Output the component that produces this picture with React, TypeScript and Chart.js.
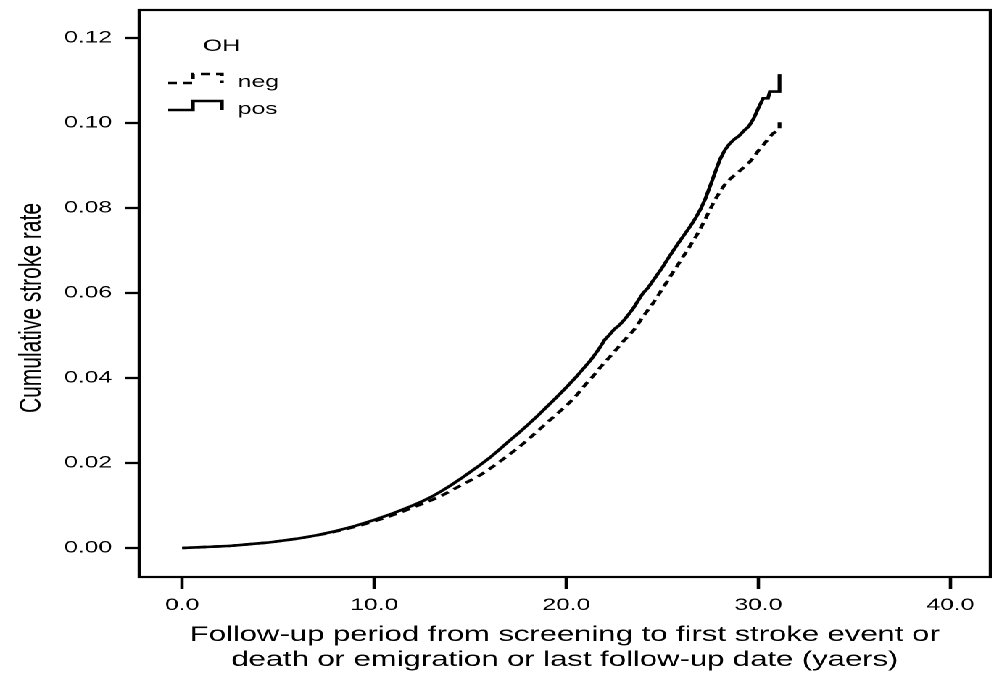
import React, { useEffect, useRef } from 'react';
import { Chart, registerables } from 'chart.js';

Chart.register(...registerables);

// ---- data ----
const legendTitle = 'OH';
const seriesNames = ['neg', 'pos'];
const xTickValues = [0, 10, 20, 30, 40];
const yTickValues = [0, 0.02, 0.04, 0.06, 0.08, 0.1, 0.12];
const xTitleLines = [
  'Follow-up period from screening to first stroke event or',
  'death or emigration or last follow-up date (yaers)',
];
const yTitle = 'Cumulative stroke rate';

const posTimes = [
  0, 0.5, 1, 1.5, 2, 2.5, 3, 3.5, 4, 4.5, 5, 5.5, 6, 6.5, 7, 7.5, 8, 8.5, 9, 9.5,
  10, 10.5, 11, 11.5, 12, 12.5, 13, 13.5, 14, 14.5, 15, 15.5, 16, 16.5, 17, 17.5, 18, 18.5, 19, 19.5,
  20, 20.25, 20.5, 20.75, 21, 21.25, 21.5, 21.75, 22, 22.25, 22.5, 22.75, 23, 23.25, 23.5, 23.75,
  24, 24.25, 24.5, 24.75, 25, 25.25, 25.5, 25.75, 26, 26.25, 26.5, 26.75, 27, 27.25, 27.5, 27.75,
  28, 28.25, 28.5, 28.75, 29, 29.25, 29.5, 29.75, 30, 30.25, 30.5, 30.6, 31.1, 31.1,
];
const posRates = [
  0, 0.0001, 0.0002, 0.0003, 0.0004, 0.0005, 0.0007, 0.0009, 0.0011, 0.0013, 0.0016, 0.0019, 0.0022, 0.0026, 0.003, 0.0035, 0.004, 0.0046, 0.0052, 0.0059,
  0.0066, 0.0074, 0.0082, 0.0091, 0.01, 0.011, 0.0121, 0.0134, 0.0148, 0.0163, 0.0179, 0.0195, 0.0212, 0.0231, 0.0251, 0.027, 0.029, 0.0311, 0.0333, 0.0355,
  0.0378, 0.039, 0.0402, 0.0415, 0.0428, 0.0441, 0.0456, 0.0472, 0.049, 0.0502, 0.0515, 0.0524, 0.0536, 0.055, 0.0565, 0.0583,
  0.06, 0.0612, 0.0628, 0.0644, 0.066, 0.0678, 0.0695, 0.0712, 0.0728, 0.0744, 0.076, 0.0778, 0.0798, 0.0823, 0.0853, 0.0884,
  0.0914, 0.0936, 0.0951, 0.0962, 0.097, 0.0982, 0.0992, 0.101, 0.1035, 0.1058, 0.1058, 0.1074, 0.1074, 0.1115,
];

const negTimes = [
  0, 0.5, 1, 1.5, 2, 2.5, 3, 3.5, 4, 4.5, 5, 5.5, 6, 6.5, 7, 7.5, 8, 8.5, 9, 9.5,
  10, 10.5, 11, 11.5, 12, 12.5, 13, 13.5, 14, 14.5, 15, 15.5, 16, 16.5, 17, 17.5, 18, 18.5, 19, 19.5,
  20, 20.25, 20.5, 20.75, 21, 21.25, 21.5, 21.75, 22, 22.25, 22.5, 22.75, 23, 23.25, 23.5, 23.75,
  24, 24.25, 24.5, 24.75, 25, 25.25, 25.5, 25.75, 26, 26.25, 26.5, 26.75, 27, 27.25, 27.5, 27.75,
  28, 28.25, 28.5, 28.75, 29, 29.25, 29.5, 29.75, 30, 30.25, 30.5, 30.75, 31.1, 31.1,
];
const negRates = [
  0, 0.0001, 0.0002, 0.0003, 0.0004, 0.0005, 0.0007, 0.0009, 0.0011, 0.0013, 0.0016, 0.0019, 0.0022, 0.0026, 0.003, 0.0034, 0.0039, 0.0044, 0.005, 0.0056,
  0.0063, 0.007, 0.0078, 0.0086, 0.0095, 0.0104, 0.0113, 0.0123, 0.0135, 0.0147, 0.0159, 0.0171, 0.0186, 0.0202, 0.0219, 0.0236, 0.0255, 0.0275, 0.0295, 0.0315,
  0.0335, 0.0346, 0.0358, 0.0371, 0.0385, 0.0397, 0.041, 0.0424, 0.0437, 0.0449, 0.0462, 0.0475, 0.0488, 0.05, 0.0512, 0.0528,
  0.0545, 0.056, 0.0575, 0.0592, 0.061, 0.0627, 0.0645, 0.0662, 0.068, 0.0697, 0.0715, 0.0733, 0.0753, 0.0775, 0.0798, 0.082,
  0.0838, 0.0855, 0.0867, 0.0877, 0.0886, 0.0896, 0.0906, 0.0919, 0.0935, 0.0948, 0.0962, 0.0975, 0.0985, 0.1005,
];

// ---- layout / style ----
const STRETCH = 1.45;
const CANVAS_W = 684;
const CANVAS_H = 681;
const FONT = '"Liberation Sans", Arial, Helvetica, sans-serif';
const LINE_W = 2.6;
const DASH = [6, 4.5];

const decorPlugin = {
  id: 'decor',
  afterDraw(chart: any) {
    const { ctx, chartArea: a } = chart;
    ctx.save();
    // frame
    ctx.strokeStyle = '#000';
    ctx.lineWidth = 2.2;
    ctx.setLineDash([]);
    ctx.strokeRect(a.left, a.top, a.right - a.left, a.bottom - a.top);

    ctx.fillStyle = '#000';
    // x title
    ctx.font = `21.4px ${FONT}`;
    ctx.textAlign = 'center';
    ctx.textBaseline = 'middle';
    const cx = (a.left + a.right) / 2;
    xTitleLines.forEach((t, i) => ctx.fillText(t, cx, a.bottom + 58 + i * 25));

    // y title
    ctx.save();
    ctx.translate(22, 308);
    ctx.rotate(-Math.PI / 2);
    ctx.font = `21px ${FONT}`;
    ctx.fillText(yTitle, 0, 0);
    ctx.restore();

    // legend
    ctx.textAlign = 'left';
    ctx.textBaseline = 'alphabetic';
    ctx.font = `17px ${FONT}`;
    ctx.fillText(legendTitle, a.left + 44, a.top + 41);
    const x0 = a.left + 20, xs = a.left + 37, x1 = a.left + 57;
    const rows = [
      { low: a.top + 73, high: a.top + 64, base: a.top + 77, dash: DASH },
      { low: a.top + 100, high: a.top + 91, base: a.top + 104, dash: [] as number[] },
    ];
    rows.forEach((r, i) => {
      ctx.save();
      ctx.lineWidth = LINE_W;
      ctx.setLineDash(r.dash);
      ctx.beginPath();
      ctx.moveTo(x0, r.low);
      ctx.lineTo(xs, r.low);
      ctx.lineTo(xs, r.high);
      ctx.lineTo(x1, r.high);
      ctx.lineTo(x1, r.low);
      ctx.stroke();
      ctx.restore();
      ctx.fillText(seriesNames[i], a.left + 68, r.base);
    });
    ctx.restore();
  },
};

export default function App() {
  const ref = useRef<HTMLCanvasElement | null>(null);
  useEffect(() => {
    document.body.style.margin = '0';
    const canvas = ref.current;
    if (!canvas) return;
    const mk = (times: number[], rates: number[]) => times.map((t, i) => ({ x: t, y: rates[i] }));
    const chart = new Chart(canvas, {
      type: 'line',
      data: {
        datasets: [
          {
            label: seriesNames[0],
            data: mk(negTimes, negRates),
            borderColor: '#000',
            borderWidth: LINE_W,
            borderDash: DASH,
            pointRadius: 0,
            tension: 0,
            fill: false,
          },
          {
            label: seriesNames[1],
            data: mk(posTimes, posRates),
            borderColor: '#000',
            borderWidth: LINE_W,
            pointRadius: 0,
            tension: 0,
            fill: false,
          },
        ],
      },
      options: {
        animation: false,
        responsive: false,
        devicePixelRatio: 2,
        events: [],
        layout: { padding: { top: 10, right: 1, left: 0, bottom: 0 } },
        plugins: { legend: { display: false }, tooltip: { enabled: false } },
        scales: {
          x: {
            type: 'linear',
            min: -2.24,
            max: 42.08,
            afterBuildTicks: (s: any) => {
              s.ticks = xTickValues.map((v) => ({ value: v }));
            },
            afterFit: (s: any) => {
              s.height = 104;
              s.paddingLeft = 0;
              s.paddingRight = 0;
            },
            grid: { drawOnChartArea: false, drawTicks: true, tickLength: 12, tickWidth: 2.3, tickColor: '#000' },
            border: { display: false },
            ticks: {
              color: '#000',
              font: { family: FONT, size: 17 },
              padding: 6,
              maxRotation: 0,
              autoSkip: false,
              callback: (v: any) => Number(v).toFixed(1),
            },
          },
          y: {
            type: 'linear',
            min: -0.00682,
            max: 0.12659,
            afterBuildTicks: (s: any) => {
              s.ticks = yTickValues.map((v) => ({ value: v }));
            },
            afterFit: (s: any) => {
              s.width = 96;
              s.paddingTop = 0;
              s.paddingBottom = 0;
            },
            grid: { drawOnChartArea: false, drawTicks: true, tickLength: 9.7, tickWidth: 2.3, tickColor: '#000' },
            border: { display: false },
            ticks: {
              color: '#000',
              font: { family: FONT, size: 17 },
              padding: 9,
              autoSkip: false,
              callback: (v: any) => Number(v).toFixed(2),
            },
          },
        },
      },
      plugins: [decorPlugin],
    });
    return () => chart.destroy();
  }, []);

  return (
    <div
      style={{
        width: CANVAS_W,
        height: CANVAS_H,
        transform: `scaleX(${STRETCH})`,
        transformOrigin: '0 0',
        background: '#fff',
      }}
    >
      <canvas ref={ref} width={CANVAS_W} height={CANVAS_H} />
    </div>
  );
}
